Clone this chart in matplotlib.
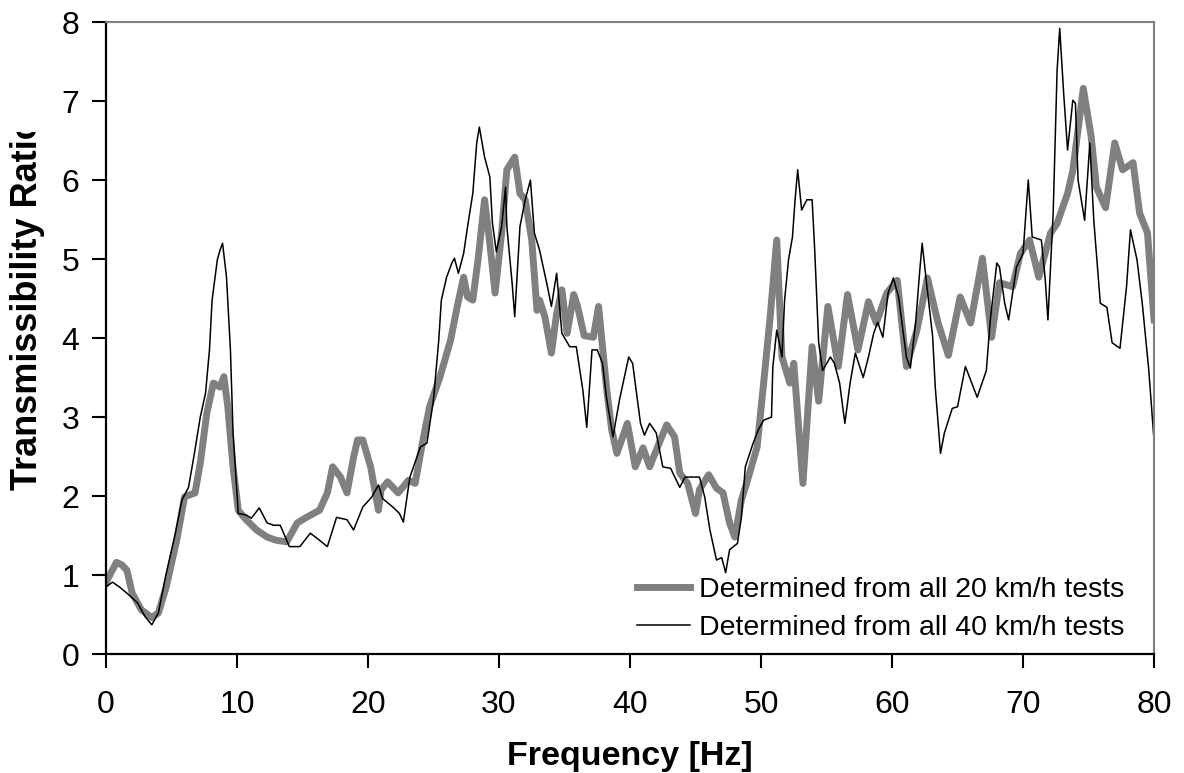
import matplotlib
matplotlib.use('Agg')
import matplotlib.pyplot as plt
from matplotlib.transforms import Bbox, TransformedBbox

plt.rcParams['font.family'] = ['Liberation Sans', 'DejaVu Sans']

# 20 km/h tests (thick grey)
f20 = [0.0, 0.1, 0.8, 1.2, 1.6, 2.0, 2.7, 3.5, 4.0, 4.6, 5.4, 6.0, 6.8, 7.2, 7.7,
       8.2, 8.5, 8.7, 9.0, 9.3, 9.7, 10.1, 10.7, 11.5, 12.3, 13.0, 13.8, 14.6, 15.3,
       16.3, 16.9, 17.3, 17.9, 18.4, 18.9, 19.2, 19.6, 20.2, 20.8, 21.0, 21.5, 22.3,
       23.1, 23.6, 24.2, 24.7, 25.5, 26.3, 26.8, 27.3, 27.6, 28.0, 28.4, 28.9, 29.3,
       29.7, 30.2, 30.6, 31.2, 31.6, 32.0, 32.5, 32.9, 33.1, 33.5, 34.0, 34.4, 34.8,
       35.2, 35.7, 36.0, 36.5, 37.2, 37.6, 37.9, 38.2, 38.6, 39.0, 39.8, 40.4, 41.0,
       41.5, 42.1, 42.8, 43.4, 43.8, 44.4, 45.0, 45.3, 46.0, 46.6, 47.1, 47.6, 48.0,
       48.5, 48.9, 49.7, 50.2, 50.7, 51.2, 51.6, 52.2, 52.5, 53.2, 53.9, 54.4, 55.1,
       55.9, 56.6, 57.4, 58.2, 58.8, 59.6, 60.4, 61.1, 61.9, 62.7, 63.5, 64.3, 65.2,
       66.0, 66.9, 67.6, 68.2, 69.2, 69.8, 70.5, 71.2, 72.1, 72.6, 73.4, 73.8, 74.6,
       75.2, 75.6, 76.3, 77.0, 77.6, 78.4, 78.9, 79.5, 80.0]
t20 = [0.90, 0.94, 1.16, 1.13, 1.06, 0.77, 0.56, 0.46, 0.52, 0.85, 1.44, 1.99, 2.04, 2.42, 3.05,
       3.43, 3.40, 3.38, 3.51, 3.13, 2.37, 1.82, 1.70, 1.57, 1.48, 1.44, 1.42, 1.66, 1.73,
       1.82, 2.04, 2.37, 2.24, 2.04, 2.49, 2.71, 2.71, 2.37, 1.82, 2.08, 2.18, 2.04,
       2.20, 2.16, 2.71, 3.13, 3.51, 3.97, 4.39, 4.77, 4.52, 4.48, 4.99, 5.75, 5.20,
       4.57, 5.33, 6.13, 6.29, 5.83, 5.75, 5.24, 4.35, 4.48, 4.27, 3.81, 4.31, 4.61,
       4.06, 4.55, 4.40, 4.03, 4.01, 4.40, 3.89, 3.38, 2.84, 2.54, 2.92, 2.37, 2.61,
       2.37, 2.62, 2.90, 2.75, 2.29, 2.16, 1.78, 2.08, 2.27, 2.10, 2.04, 1.66, 1.48,
       1.95, 2.16, 2.62, 3.43, 4.27, 5.24, 3.76, 3.43, 3.68, 2.16, 3.89, 3.20, 4.40,
       3.64, 4.55, 3.85, 4.46, 4.19, 4.57, 4.73, 3.64, 4.10, 4.76, 4.20, 3.78, 4.52,
       4.19, 5.01, 4.01, 4.70, 4.65, 5.07, 5.24, 4.77, 5.33, 5.45, 5.83, 6.12, 7.16,
       6.55, 5.91, 5.65, 6.47, 6.13, 6.22, 5.58, 5.33, 4.23]

# 40 km/h tests (thin black)
f40 = [0.0, 0.5, 1.1, 1.6, 2.4, 3.0, 3.5, 4.0, 4.6, 5.3, 5.8, 6.3, 6.7, 7.2, 7.6, 7.9,
       8.1, 8.5, 8.7, 8.9, 9.2, 9.5, 9.7, 10.1, 10.7, 11.1, 11.7, 12.3, 12.8, 13.3,
       14.0, 14.8, 15.6, 16.3, 16.9, 17.6, 18.4, 18.9, 19.6, 20.3, 20.8, 21.1, 21.9,
       22.4, 22.7, 23.2, 24.0, 24.5, 25.0, 25.4, 25.6, 26.0, 26.4, 26.6, 26.9, 27.3,
       27.6, 28.0, 28.3, 28.5, 28.9, 29.3, 29.5, 29.8, 30.2, 30.5, 30.6, 31.0, 31.2,
       31.6, 32.0, 32.4, 32.7, 33.1, 33.7, 34.0, 34.4, 34.8, 35.4, 35.9, 36.4, 36.7,
       37.1, 37.5, 37.9, 38.2, 38.7, 39.2, 39.9, 40.2, 40.8, 41.1, 41.5, 42.0, 42.5,
       43.1, 43.8, 44.2, 45.3, 45.7, 46.1, 46.6, 47.0, 47.3, 47.6, 48.2, 48.5, 48.8,
       49.4, 49.8, 50.2, 50.8, 50.9, 51.2, 51.4, 51.6, 51.8, 52.1, 52.4, 52.6, 52.8,
       53.1, 53.5, 53.9, 54.1, 54.4, 54.7, 55.3, 55.6, 56.0, 56.4, 56.8, 57.2, 57.8,
       58.2, 58.6, 58.9, 59.3, 59.7, 60.1, 60.5, 61.1, 61.4, 61.8, 62.1, 62.3, 62.7,
       63.1, 63.3, 63.7, 64.0, 64.6, 65.0, 65.6, 66.5, 67.2, 67.5, 68.0, 68.2, 68.6,
       68.9, 69.5, 70.0, 70.4, 70.7, 71.4, 71.7, 71.9, 72.3, 72.6, 72.8, 73.1, 73.4,
       73.8, 74.0, 74.2, 74.7, 75.1, 75.4, 75.9, 76.4, 76.8, 77.4, 77.9, 78.2, 78.7,
       79.1, 79.6, 80.0]
t40 = [0.85, 0.91, 0.84, 0.77, 0.65, 0.47, 0.37, 0.52, 1.02, 1.53, 1.95, 2.11, 2.49, 3.00, 3.30, 3.85,
       4.48, 4.99, 5.11, 5.20, 4.77, 3.85, 2.80, 1.78, 1.76, 1.72, 1.85, 1.66, 1.63, 1.63,
       1.36, 1.36, 1.53, 1.44, 1.36, 1.73, 1.70, 1.57, 1.86, 1.99, 2.14, 1.97, 1.86,
       1.78, 1.67, 2.24, 2.62, 2.67, 3.22, 3.97, 4.48, 4.77, 4.95, 5.01, 4.82, 5.07,
       5.41, 5.83, 6.47, 6.67, 6.29, 6.04, 5.45, 5.09, 5.41, 5.91, 5.41, 4.70, 4.27,
       5.41, 5.75, 6.00, 5.33, 5.11, 4.65, 4.40, 4.82, 4.06, 3.89, 3.89, 3.34, 2.87,
       3.85, 3.85, 3.68, 3.25, 2.75, 3.22, 3.76, 3.68, 2.92, 2.77, 2.92, 2.80, 2.37,
       2.35, 2.11, 2.24, 2.24, 1.99, 1.57, 1.19, 1.22, 1.03, 1.32, 1.40, 1.73, 2.37,
       2.67, 2.84, 2.96, 3.00, 3.63, 4.10, 3.94, 3.76, 4.48, 4.99, 5.28, 5.75, 6.13,
       5.62, 5.75, 5.75, 5.11, 3.94, 3.59, 3.76, 3.68, 3.43, 2.92, 3.43, 3.81, 3.50,
       3.76, 4.06, 4.20, 4.01, 4.57, 4.76, 4.52, 3.76, 3.62, 4.19, 4.82, 5.20, 4.60,
       4.02, 3.38, 2.54, 2.80, 3.11, 3.13, 3.64, 3.25, 3.59, 4.23, 4.95, 4.90, 4.44,
       4.23, 4.90, 5.07, 6.00, 5.28, 5.24, 4.73, 4.23, 5.58, 7.39, 7.92, 7.10, 6.38,
       7.01, 6.97, 6.00, 5.49, 6.47, 5.49, 4.44, 4.39, 3.94, 3.87, 4.65, 5.37, 4.99,
       4.44, 3.59, 2.70]

labels = ['Determined from all 20 km/h tests', 'Determined from all 40 km/h tests']

fig = plt.figure(figsize=(11.84, 7.73), dpi=100)
ax = fig.add_axes([0.0895, 0.1539, 0.8852, 0.8176])

ax.plot(f20, t20, color='#808080', lw=5, solid_joinstyle='round', label=labels[0])
ax.plot(f40, t40, color='black', lw=1.1, label=labels[1])

ax.set_xlim(0, 80)
ax.set_ylim(0, 8)
ax.set_xticks(range(0, 81, 10))
ax.set_yticks(range(0, 9))

for s in ['top', 'right']:
    ax.spines[s].set_color('#808080')
    ax.spines[s].set_linewidth(1.5)
for s in ['left', 'bottom']:
    ax.spines[s].set_color('black')
    ax.spines[s].set_linewidth(1.6)

ax.tick_params(axis='both', direction='out', length=10, width=1.5, labelsize=23)
ax.tick_params(axis='x', pad=16)
ax.tick_params(axis='y', pad=9)

ax.set_xlabel('Frequency [Hz]', fontsize=24.5, fontweight='bold', labelpad=15)

# y label is clipped at the top in the original
yl = fig.text(0.0235, 0.366, 'Transmissibility Ratio', rotation=90, ha='center', va='bottom',
              fontsize=26, fontweight='bold')
clip = TransformedBbox(Bbox([[0, 0], [1, (773 - 132) / 773]]), fig.transFigure)
yl.set_clip_box(clip)
yl.set_clip_on(True)

ax.legend(loc='lower right', bbox_to_anchor=(0.972, 0.02), frameon=False, fontsize=20.5,
          handlelength=1.86, handletextpad=0.32, labelspacing=0.45, borderpad=0,
          borderaxespad=0)

fig.savefig('out.png', dpi=100)
